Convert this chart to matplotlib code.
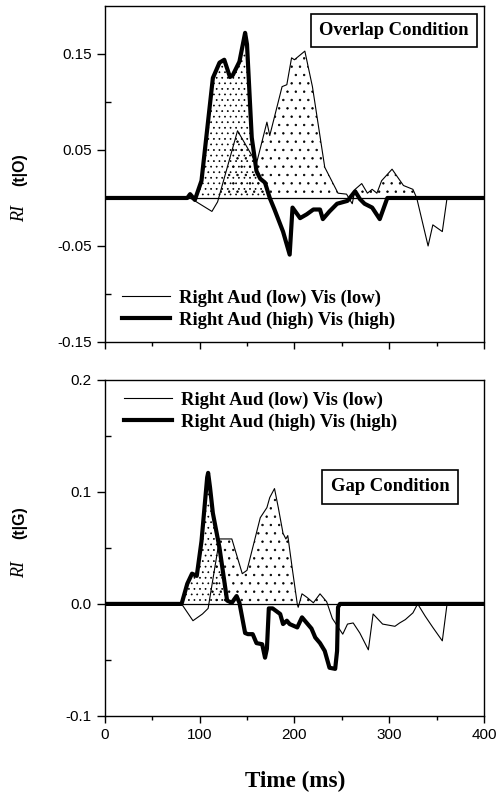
import numpy as np
import matplotlib
matplotlib.use("Agg")
import matplotlib.pyplot as plt
from matplotlib.ticker import MultipleLocator, FixedLocator

# Overlap condition
ov_low_t = [0, 90, 113, 119, 140, 160, 171, 174, 187, 192, 197, 200, 211, 219, 232, 246,
            255, 261, 264, 271, 277, 282, 287, 292, 303, 315, 325, 329, 341, 346, 356, 361, 400]
ov_low_v = [0, 0, -0.014, -0.004, 0.070, 0.036, 0.079, 0.065, 0.116, 0.118, 0.146, 0.144,
            0.153, 0.116, 0.032, 0.005, 0.004, -0.006, 0.009, 0.015, 0.005, 0.009, 0.005,
            0.018, 0.030, 0.013, 0.009, 0.0, -0.050, -0.028, -0.035, 0.0, 0.0]
ov_high_t = [0, 87, 90, 95, 102, 114, 121, 126, 132, 135, 142, 148, 150, 155, 160, 164, 169,
             174, 179, 188, 195, 198, 206, 213, 220, 227, 230, 237, 245, 256, 264, 269, 274,
             282, 290, 298, 400]
ov_high_v = [0, 0, 0.004, -0.002, 0.018, 0.125, 0.141, 0.144, 0.126, 0.128, 0.142, 0.172,
             0.160, 0.063, 0.028, 0.020, 0.016, 0.0, -0.012, -0.035, -0.059, -0.010, -0.021,
             -0.017, -0.012, -0.012, -0.022, -0.014, -0.006, -0.003, 0.007, -0.001, -0.006,
             -0.010, -0.022, 0.0, 0.0]

# Gap condition
gap_low_t = [0, 81, 93, 103, 109, 121, 134, 145, 150, 164, 171, 174, 179, 183, 188, 191, 193,
             198, 203, 204, 208, 213, 220, 227, 234, 240, 251, 256, 262, 269, 278, 283, 293,
             306, 311, 317, 325, 330, 338, 346, 356, 361, 400]
gap_low_v = [0, 0, -0.015, -0.009, -0.004, 0.058, 0.058, 0.027, 0.030, 0.077, 0.086, 0.095,
             0.103, 0.086, 0.063, 0.058, 0.061, 0.030, 0.0, -0.003, 0.009, 0.006, 0.001, 0.009,
             0.002, -0.013, -0.027, -0.018, -0.017, -0.026, -0.041, -0.009, -0.018, -0.020,
             -0.017, -0.014, -0.008, 0.0, -0.011, -0.021, -0.033, 0.0, 0.0]
gap_high_t = [0, 81, 87, 92, 97, 102, 108, 109, 111, 114, 121, 129, 134, 139, 142, 148, 151,
              156, 160, 166, 169, 171, 173, 177, 185, 188, 192, 195, 203, 208, 211, 218, 222,
              227, 232, 237, 243, 245, 246, 248, 400]
gap_high_v = [0, 0, 0.018, 0.027, 0.025, 0.056, 0.113, 0.117, 0.104, 0.081, 0.050, 0.003,
              0.001, 0.007, 0.001, -0.026, -0.027, -0.027, -0.035, -0.036, -0.048, -0.040,
              -0.004, -0.004, -0.009, -0.018, -0.015, -0.018, -0.021, -0.012, -0.015, -0.022,
              -0.030, -0.035, -0.042, -0.057, -0.058, -0.042, -0.003, 0.0, 0.0]

label_low = "Right Aud (low) Vis (low)"
label_high = "Right Aud (high) Vis (high)"

plt.rcParams['axes.unicode_minus'] = False
plt.rcParams['hatch.linewidth'] = 0.5

serif_bold = {'family': 'Liberation Serif', 'weight': 'bold'}

fig = plt.figure(figsize=(4.99, 7.99), dpi=100)
ax1 = fig.add_axes([0.21, 0.572, 0.76, 0.4205])
ax2 = fig.add_axes([0.21, 0.104, 0.76, 0.4205])


def draw_panel(ax, t_low, v_low, t_high, v_high):
    t_low = np.array(t_low, float)
    v_low = np.array(v_low, float)
    t_high = np.array(t_high, float)
    v_high = np.array(v_high, float)
    # stippled areas above zero
    ax.fill_between(t_high, 0, v_high, where=v_high > 0, interpolate=True,
                    facecolor='none', edgecolor='black', hatch='...', linewidth=0)
    ax.fill_between(t_low, 0, v_low, where=v_low > 0, interpolate=True,
                    facecolor='none', edgecolor='black', hatch='..', linewidth=0)
    ax.axhline(0, color='black', linewidth=0.9)
    ax.plot(t_low, v_low, color='black', linewidth=0.8, label=label_low)
    ax.plot(t_high, v_high, color='black', linewidth=3.0, label=label_high)
    ax.set_xlim(0, 400)
    ax.xaxis.set_major_locator(MultipleLocator(100))
    ax.xaxis.set_minor_locator(MultipleLocator(50))
    ax.tick_params(axis='x', which='major', direction='out', length=5, width=1)
    ax.tick_params(axis='x', which='minor', direction='out', length=3, width=1)
    ax.tick_params(axis='y', which='major', direction='out', length=6, width=1)
    ax.tick_params(axis='y', which='minor', direction='in', length=4, width=1)
    ax.tick_params(labelsize=11)
    for sp in ax.spines.values():
        sp.set_linewidth(1.0)


legend_kw = dict(frameon=False, borderpad=0, borderaxespad=0, handlelength=2.6,
                 handletextpad=0.45, labelspacing=0.25, prop={**serif_bold, 'size': 13.4})
box_kw = dict(boxstyle='square,pad=0.45', facecolor='white', edgecolor='black', linewidth=1.2)

draw_panel(ax1, ov_low_t, ov_low_v, ov_high_t, ov_high_v)
ax1.set_ylim(-0.15, 0.2)
ax1.yaxis.set_major_locator(FixedLocator([-0.15, -0.05, 0.05, 0.15]))
ax1.yaxis.set_minor_locator(FixedLocator([-0.1, 0.0, 0.1]))
ax1.yaxis.set_major_formatter(plt.FuncFormatter(lambda v, p: f"{v:.2f}"))
ax1.tick_params(axis='x', labelbottom=False)
ax1.legend(loc='lower left', bbox_to_anchor=(0.045, 0.04), **legend_kw)
ax1.text(0.7625, 0.927, "Overlap Condition", transform=ax1.transAxes,
         ha='center', va='center', fontsize=13.4, fontdict=serif_bold, bbox=box_kw)

draw_panel(ax2, gap_low_t, gap_low_v, gap_high_t, gap_high_v)
ax2.set_ylim(-0.1, 0.2)
ax2.yaxis.set_major_locator(FixedLocator([-0.1, 0.0, 0.1, 0.2]))
ax2.yaxis.set_minor_locator(FixedLocator([-0.05, 0.05, 0.15]))
ax2.yaxis.set_major_formatter(plt.FuncFormatter(lambda v, p: f"{v:.1f}"))
ax2.legend(loc='upper left', bbox_to_anchor=(0.05, 0.965), **legend_kw)
ax2.text(0.752, 0.6815, "Gap Condition", transform=ax2.transAxes,
         ha='center', va='center', fontsize=13.4, fontdict=serif_bold, bbox=box_kw)

for ax in (ax1, ax2):
    for lab in ax.get_xticklabels() + ax.get_yticklabels():
        lab.set_family('Liberation Sans')

# y labels
fig.text(20 / 499, 1 - 214 / 799, "RI", rotation=90, ha='center', va='center',
         family='Liberation Serif', style='italic', fontsize=13)
fig.text(20 / 499, 1 - 170 / 799, "(t|O)", rotation=90, ha='center', va='center',
         family='Liberation Sans', weight='bold', fontsize=11.5)
fig.text(20 / 499, 1 - 569 / 799, "RI", rotation=90, ha='center', va='center',
         family='Liberation Serif', style='italic', fontsize=13)
fig.text(20 / 499, 1 - 523 / 799, "(t|G)", rotation=90, ha='center', va='center',
         family='Liberation Sans', weight='bold', fontsize=11.5)

fig.text(295 / 499, 1 - 781 / 799, "Time (ms)", ha='center', va='center',
         fontsize=16.7, fontdict=serif_bold)

fig.savefig("out.png", dpi=100)
